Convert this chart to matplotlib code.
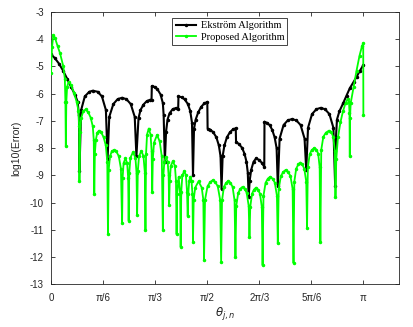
import numpy as np
import matplotlib
matplotlib.use("Agg")
import matplotlib.pyplot as plt

# ---- data (theta in radians, log10 of error) ----
ekstrom_theta = [0.000, 0.040, 0.081, 0.121, 0.162, 0.202, 0.243, 0.268, 0.281, 0.286,
                 0.303, 0.340, 0.385, 0.420, 0.470, 0.512, 0.552, 0.569,
                 0.586, 0.627, 0.670, 0.714, 0.758, 0.802, 0.842, 0.859,
                 0.880, 0.900, 0.930, 0.961, 0.991, 1.011, 1.014, 1.041, 1.071, 1.102, 1.125, 1.133, 1.145,
                 1.157, 1.172, 1.192, 1.223, 1.253, 1.279, 1.282, 1.314, 1.344, 1.375, 1.400, 1.418, 1.428,
                 1.438, 1.455, 1.481, 1.511, 1.541, 1.572, 1.575, 1.602, 1.632, 1.663, 1.688, 1.705, 1.715,
                 1.726, 1.744, 1.769, 1.799, 1.830, 1.858, 1.861, 1.890, 1.920, 1.946, 1.966, 1.979, 1.988,
                 1.998, 2.013, 2.037, 2.062, 2.093, 2.123, 2.145, 2.147, 2.173, 2.200, 2.225, 2.249, 2.269, 2.281,
                 2.299, 2.339, 2.381, 2.424, 2.467, 2.510, 2.550, 2.567,
                 2.585, 2.625, 2.669, 2.712, 2.756, 2.800, 2.840, 2.858,
                 2.866, 2.876, 2.900, 2.937, 2.972, 3.005, 3.043, 3.073, 3.108, 3.141]
ekstrom_log = [-4.55, -4.70, -4.90, -5.15, -5.45, -5.75, -6.05, -6.30, -6.80, -8.85,
               -6.60, -6.10, -5.93, -5.89, -5.93, -6.10, -6.60, -8.40,
               -6.85, -6.38, -6.20, -6.15, -6.20, -6.38, -6.85, -8.30,
               -6.90, -6.60, -6.40, -6.28, -6.23, -6.22, -5.72, -5.75, -5.84, -6.03, -6.35, -6.80, -8.50,
               -7.40, -6.95, -6.72, -6.57, -6.53, -6.55, -6.10, -6.13, -6.21, -6.37, -6.63, -7.07, -9.00,
               -7.30, -6.95, -6.68, -6.48, -6.36, -6.30, -7.28, -7.32, -7.42, -7.60, -7.90, -8.30, -9.50,
               -8.30, -7.90, -7.60, -7.42, -7.31, -7.27, -7.77, -7.85, -7.98, -8.20, -8.50, -8.90, -9.80,
               -9.20, -8.80, -8.50, -8.38, -8.43, -8.55, -8.69, -7.03, -7.07, -7.16, -7.33, -7.60, -8.00, -9.40,
               -7.65, -7.15, -6.98, -6.93, -6.98, -7.15, -7.65, -8.80,
               -7.25, -6.75, -6.57, -6.52, -6.57, -6.75, -7.25, -9.40,
               -7.60, -6.95, -6.65, -6.36, -6.07, -5.80, -5.57, -5.38, -5.15, -4.95]

proposed_theta = [0.000, 0.010, 0.023, 0.040, 0.066, 0.091, 0.124, 0.139, 0.145, 0.149,
                  0.154, 0.162, 0.177, 0.202, 0.232, 0.258, 0.276, 0.283, 0.286,
                  0.292, 0.303, 0.324, 0.347, 0.374, 0.399, 0.420, 0.430, 0.435,
                  0.441, 0.451, 0.465, 0.482, 0.505, 0.529, 0.551, 0.566, 0.573,
                  0.580, 0.593, 0.611, 0.632, 0.657, 0.682, 0.703, 0.715,
                  0.720, 0.730, 0.748, 0.766, 0.776, 0.781,
                  0.787, 0.799, 0.824, 0.849, 0.860, 0.866,
                  0.873, 0.885, 0.909, 0.930, 0.944, 0.950,
                  0.956, 0.966, 0.983, 1.001, 1.012, 1.018,
                  1.024, 1.036, 1.066, 1.093, 1.114, 1.125,
                  1.130, 1.140, 1.155, 1.173, 1.183, 1.188,
                  1.194, 1.205, 1.225, 1.246, 1.257, 1.263,
                  1.268, 1.284, 1.299, 1.304,
                  1.310, 1.321, 1.339, 1.357, 1.368, 1.375,
                  1.380, 1.390, 1.401, 1.413, 1.423, 1.428,
                  1.435, 1.450, 1.484, 1.516, 1.532, 1.539,
                  1.549, 1.574, 1.600, 1.625, 1.652, 1.677, 1.701, 1.711,
                  1.720, 1.739, 1.762, 1.783, 1.804, 1.826, 1.846, 1.855,
                  1.863, 1.883, 1.905, 1.926, 1.947, 1.968, 1.988, 1.996,
                  2.004, 2.022, 2.042, 2.062, 2.082, 2.101, 2.120, 2.128,
                  2.137, 2.158, 2.181, 2.204, 2.228, 2.251, 2.272, 2.281,
                  2.290, 2.312, 2.337, 2.360, 2.383, 2.408, 2.430, 2.439,
                  2.447, 2.466, 2.487, 2.507, 2.527, 2.547, 2.567, 2.575,
                  2.583, 2.602, 2.622, 2.646, 2.669, 2.687, 2.702, 2.709,
                  2.718, 2.739, 2.765, 2.795, 2.820, 2.840, 2.854, 2.861,
                  2.869, 2.886, 2.911, 2.936, 2.962, 2.982, 2.997, 3.002, 3.005,
                  3.007, 3.014, 3.043, 3.073, 3.103, 3.128, 3.140, 3.1416]
proposed_log = [-5.25, -4.30, -3.85, -3.95, -4.25, -4.52, -5.00, -5.45, -6.30, -7.93,
                -6.30, -5.75, -5.56, -5.68, -5.98, -6.30, -6.62, -7.20, -9.20,
                -7.40, -6.90, -6.65, -6.58, -6.68, -6.88, -7.20, -7.70, -9.67,
                -8.20, -7.70, -7.43, -7.36, -7.42, -7.60, -7.90, -8.50, -11.15,
                -8.80, -8.30, -8.12, -8.07, -8.12, -8.30, -8.75, -10.75,
                -9.10, -8.55, -8.38, -8.55, -9.10, -10.67,
                -8.90, -8.35, -8.15, -8.35, -8.90, -10.46,
                -8.85, -8.30, -8.10, -8.30, -8.90, -11.01,
                -8.20, -7.50, -7.28, -7.50, -8.10, -9.60,
                -8.40, -7.80, -7.52, -7.75, -8.30, -11.01,
                -9.00, -8.50, -8.32, -8.50, -9.00, -10.10,
                -9.20, -8.65, -8.48, -8.65, -9.20, -11.16,
                -9.70, -9.05, -9.70, -11.63,
                -9.60, -9.00, -8.85, -9.00, -9.60, -10.50,
                -9.70, -9.20, -9.05, -9.20, -9.70, -11.44,
                -9.90, -9.45, -9.22, -9.45, -9.90, -12.12,
                -9.90, -9.40, -9.25, -9.18, -9.25, -9.40, -9.90, -12.18,
                -9.92, -9.42, -9.27, -9.20, -9.27, -9.42, -9.92, -12.00,
                -10.12, -9.64, -9.49, -9.42, -9.49, -9.64, -10.12, -11.26,
                -10.15, -9.67, -9.52, -9.45, -9.52, -9.67, -10.15, -12.30,
                -9.75, -9.27, -9.12, -9.05, -9.12, -9.27, -9.75, -11.50,
                -9.50, -9.02, -8.87, -8.80, -8.87, -9.02, -9.50, -12.22,
                -9.23, -8.75, -8.60, -8.53, -8.60, -8.75, -9.23, -10.93,
                -8.70, -8.22, -8.07, -8.00, -8.05, -8.20, -8.70, -11.44,
                -8.06, -7.58, -7.43, -7.36, -7.42, -7.60, -8.10, -9.80,
                -8.40, -7.60, -7.05, -6.65, -6.35, -6.20, -6.30, -6.70, -8.30,
                -6.90, -6.35, -5.75, -5.15, -4.60, -4.25, -4.15, -6.79]

series_labels = ["Ekstr\u00f6m Algorithm", "Proposed Algorithm"]
series_colors = ["#000000", "#00ff00"]

xtick_values = [0, np.pi / 6, np.pi / 3, np.pi / 2, 2 * np.pi / 3, 5 * np.pi / 6, np.pi]
xtick_labels = ["0", "\u03c0/6", "\u03c0/3", "\u03c0/2", "2\u03c0/3", "5\u03c0/6", "\u03c0"]
ytick_values = list(range(-13, -2))

# ---- figure ----
plt.rcParams['font.family'] = ['Liberation Sans', 'DejaVu Sans']
fig = plt.figure(figsize=(4.14, 3.27), dpi=100)
ax = fig.add_axes([0.1232, 0.1306, 0.8406, 0.8327])

axis_color = "#262626"
ax.plot(ekstrom_theta, ekstrom_log, '-', marker='.', color=series_colors[0],
        lw=1.5, ms=3.0, label=series_labels[0], zorder=2)
ax.plot(proposed_theta, proposed_log, '-', marker='.', color=series_colors[1],
        lw=1.3, ms=3.0, label=series_labels[1], zorder=3)

ax.set_xlim(0, 3.5)
ax.set_ylim(-13, -3)
ax.set_xticks(xtick_values)
ax.set_xticklabels(xtick_labels)
ax.set_yticks(ytick_values)
ax.set_yticklabels([str(v) for v in ytick_values])
ax.tick_params(direction='in', top=True, right=True, length=3, width=0.6,
               labelsize=7, colors=axis_color)
ax.tick_params(axis='x', pad=6)
ax.tick_params(axis='y', pad=5)
for sp in ax.spines.values():
    sp.set_linewidth(0.6)
    sp.set_color(axis_color)

ax.set_ylabel("log10(Error)", fontsize=7.5, color=axis_color, labelpad=6)
ax.set_xlabel(r"$\theta_{j,n}$", fontsize=8.5, color=axis_color, labelpad=2)

leg = ax.legend(loc='upper center', bbox_to_anchor=(0.514, 0.978),
                prop={'family': 'Liberation Serif', 'size': 7.5},
                fancybox=False, framealpha=1, edgecolor=axis_color,
                handlelength=2.0, handletextpad=0.4, borderpad=0.3,
                labelspacing=0.2, borderaxespad=0.0)
leg.get_frame().set_linewidth(0.6)

fig.savefig("out.png", dpi=100)
